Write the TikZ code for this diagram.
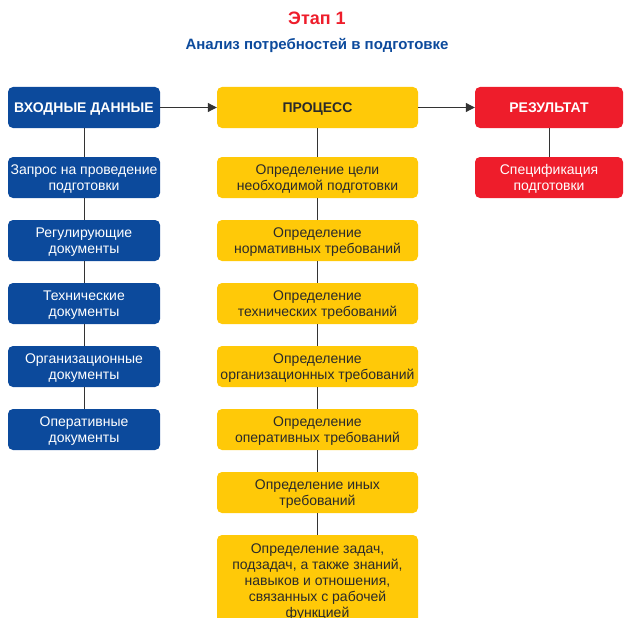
\documentclass[tikz,border=0pt]{standalone}
\usepackage{fontspec}
\setmainfont{Liberation Sans}
\usetikzlibrary{arrows.meta}
\definecolor{cblue}{HTML}{0C4A9C}
\definecolor{cyel}{HTML}{FFC908}
\definecolor{cred}{HTML}{EE1D2B}
\definecolor{ctext}{HTML}{2A2A2A}
\definecolor{cline}{HTML}{333333}
\tikzset{
  box/.style={rectangle, rounded corners=5pt, align=center, inner sep=0pt,
    minimum height=41pt, text depth=0pt, font=\fontsize{14}{16}\selectfont},
  bluebox/.style={box, fill=cblue, text=white, minimum width=152pt},
  yelbox/.style={box, fill=cyel, text=ctext, minimum width=201pt},
  redbox/.style={box, fill=cred, text=white, minimum width=148pt},
  head/.style={font=\fontsize{14}{16}\selectfont\bfseries},
  link/.style={draw=cline, line width=1pt},
  arr/.style={link, -{Triangle[length=9pt,width=9pt]}}
}
\begin{document}
\begin{tikzpicture}[x=1pt,y=-1pt]
\useasboundingbox (0,0) rectangle (624,618);
\node[text=cred, font=\fontsize{18}{20}\selectfont\bfseries] (title) at (317,18) {Этап 1};
\node[text=cblue, font=\fontsize{15}{17}\selectfont\bfseries] (sub) at (317,45) {Анализ потребностей в подготовке};

\node[bluebox, head] (L0) at (84,107.5) {ВХОДНЫЕ ДАННЫЕ};
\node[yelbox, head] (M0) at (317.5,107.5) {ПРОЦЕСС};
\node[redbox, head] (R0) at (549,107.5) {РЕЗУЛЬТАТ};

\node[bluebox] (L1) at (84,177.5) {Запрос на проведение\\подготовки};
\node[bluebox] (L2) at (84,240.5) {Регулирующие\\документы};
\node[bluebox] (L3) at (84,303.5) {Технические\\документы};
\node[bluebox] (L4) at (84,366.5) {Организационные\\документы};
\node[bluebox] (L5) at (84,429.5) {Оперативные\\документы};

\node[yelbox] (M1) at (317.5,177.5) {Определение цели\\необходимой подготовки};
\node[yelbox] (M2) at (317.5,240.5) {Определение\\нормативных требований};
\node[yelbox] (M3) at (317.5,303.5) {Определение\\технических требований};
\node[yelbox] (M4) at (317.5,366.5) {Определение\\организационных требований};
\node[yelbox] (M5) at (317.5,429.5) {Определение\\оперативных требований};
\node[yelbox] (M6) at (317.5,492.5) {Определение иных\\требований};
\node[yelbox, minimum height=92pt] (M7) at (317.5,581) {Определение задач,\\подзадач, а также знаний,\\навыков и отношения,\\связанных с рабочей\\функцией};

\node[redbox] (R1) at (549,177.5) {Спецификация\\подготовки};

\draw[arr] (L0.east) -- (M0.west);
\draw[arr] (M0.east) -- (R0.west);

\draw[link] (L0) -- (L1) -- (L2) -- (L3) -- (L4) -- (L5);
\draw[link] (M0) -- (M1) -- (M2) -- (M3) -- (M4) -- (M5) -- (M6) -- (M7);
\draw[link] (R0) -- (R1);
\end{tikzpicture}
\end{document}
